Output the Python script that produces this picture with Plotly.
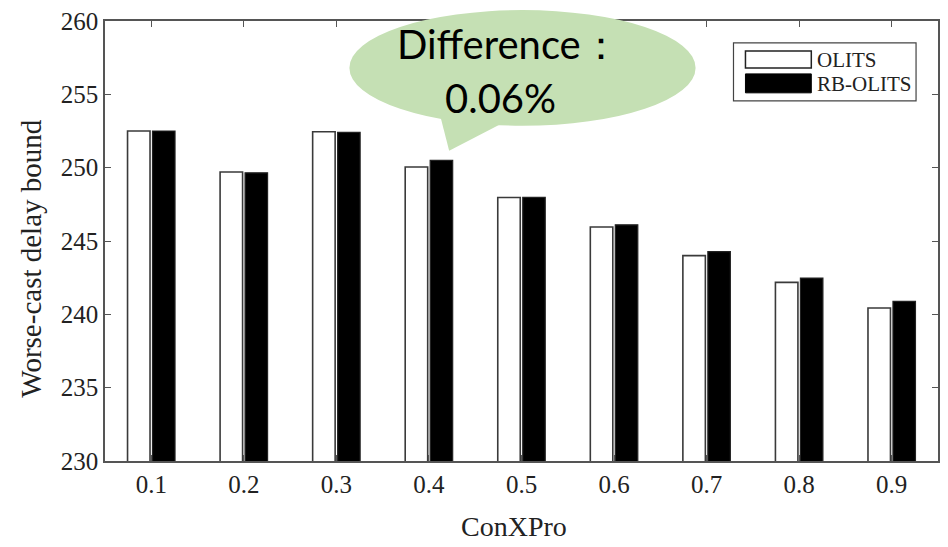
import plotly.graph_objects as go

categories = ["0.1", "0.2", "0.3", "0.4", "0.5", "0.6", "0.7", "0.8", "0.9"]
olits = [252.5, 249.7, 252.45, 250.05, 247.97, 245.95, 244.0, 242.18, 240.43]
rb_olits = [252.5, 249.65, 252.4, 250.5, 247.97, 246.1, 244.28, 242.47, 240.88]
series_names = ["OLITS", "RB-OLITS"]
y_ticks = [230, 235, 240, 245, 250, 255, 260]
callout_lines = ["Difference：", "0.06%"]

W, H = 948, 547
L, R, T, B = 105, 940, 20, 461


def px(x):
    return (x - L) / (R - L)


def py(y):
    return (B - y) / (B - T)


SERIF = "Liberation Serif, Times New Roman, serif"
AXC = "#555555"
TXT = "#222222"

fig = go.Figure()
fig.add_trace(go.Bar(x=categories, y=olits, name=series_names[0],
                     marker=dict(color="white", line=dict(color="#3a3a3a", width=1.6)),
                     showlegend=False))
fig.add_trace(go.Bar(x=categories, y=rb_olits, name=series_names[1],
                     marker=dict(color="black", line=dict(color="#222222", width=1.2)),
                     showlegend=False))

shapes = []
# legend box
shapes.append(dict(type="rect", xref="paper", yref="paper",
                   x0=px(735), x1=px(918), y0=py(42), y1=py(100),
                   line=dict(color="#444444", width=1.2), fillcolor="white", layer="above"))
shapes.append(dict(type="rect", xref="paper", yref="paper",
                   x0=px(747), x1=px(813), y0=py(50), y1=py(67),
                   line=dict(color="#222222", width=1.5), fillcolor="white", layer="above"))
shapes.append(dict(type="rect", xref="paper", yref="paper",
                   x0=px(747), x1=px(813), y0=py(73), y1=py(92),
                   line=dict(color="black", width=1), fillcolor="black", layer="above"))
# callout bubble
GREEN = "#c5e0b4"
shapes.append(dict(type="circle", xref="paper", yref="paper",
                   x0=px(350), x1=px(697), y0=py(9), y1=py(125),
                   line=dict(width=0), fillcolor=GREEN, layer="above"))
tail = "M {:.5f},{:.5f} L {:.5f},{:.5f} L {:.5f},{:.5f} Z".format(
    px(441), py(115), px(450), py(150), px(512), py(118))
shapes.append(dict(type="path", xref="paper", yref="paper", path=tail,
                   line=dict(width=0), fillcolor=GREEN, layer="above"))

annotations = [
    dict(text=series_names[0], xref="paper", yref="paper", x=px(817), y=py(59),
         xanchor="left", yanchor="middle", showarrow=False,
         font=dict(family=SERIF, size=21, color=TXT)),
    dict(text=series_names[1], xref="paper", yref="paper", x=px(817), y=py(83),
         xanchor="left", yanchor="middle", showarrow=False,
         font=dict(family=SERIF, size=21, color=TXT)),
    dict(text=callout_lines[0], xref="paper", yref="paper", x=px(510), y=py(43),
         xanchor="center", yanchor="middle", showarrow=False,
         font=dict(family="Lato, Noto Sans, sans-serif", size=40, color="black")),
    dict(text=callout_lines[1], xref="paper", yref="paper", x=px(501), y=py(97),
         xanchor="center", yanchor="middle", showarrow=False,
         font=dict(family="Lato, Noto Sans, sans-serif", size=40, color="black")),
    dict(text="Worse-cast delay bound", xref="paper", yref="paper", x=px(31), y=py(258),
         xanchor="center", yanchor="middle", textangle=-90, showarrow=False,
         font=dict(family=SERIF, size=29, color=TXT)),
    dict(text="ConXPro", xref="paper", yref="paper", x=px(515), y=py(527),
         xanchor="center", yanchor="middle", showarrow=False,
         font=dict(family=SERIF, size=28, color=TXT)),
]

fig.update_layout(
    width=W, height=H,
    margin=dict(l=L, r=W - R, t=T, b=H - B, pad=0),
    paper_bgcolor="white", plot_bgcolor="white",
    barmode="group", bargap=0.46, bargroupgap=0.1,
    shapes=shapes, annotations=annotations,
    showlegend=False,
    xaxis=dict(type="category", range=[-0.5, 8.5], showgrid=False,
               showline=True, linecolor=AXC, linewidth=1.5, mirror="ticks",
               ticks="inside", ticklen=6, tickcolor=AXC, tickwidth=1.2,
               tickfont=dict(family=SERIF, size=25, color=TXT)),
    yaxis=dict(range=[230, 260], tickvals=y_ticks, showgrid=False, zeroline=False,
               showline=True, linecolor=AXC, linewidth=1.5, mirror="ticks",
               ticks="inside", ticklen=6, tickcolor=AXC, tickwidth=1.2,
               tickfont=dict(family=SERIF, size=25, color=TXT)),
)

fig.write_html("out.html")
